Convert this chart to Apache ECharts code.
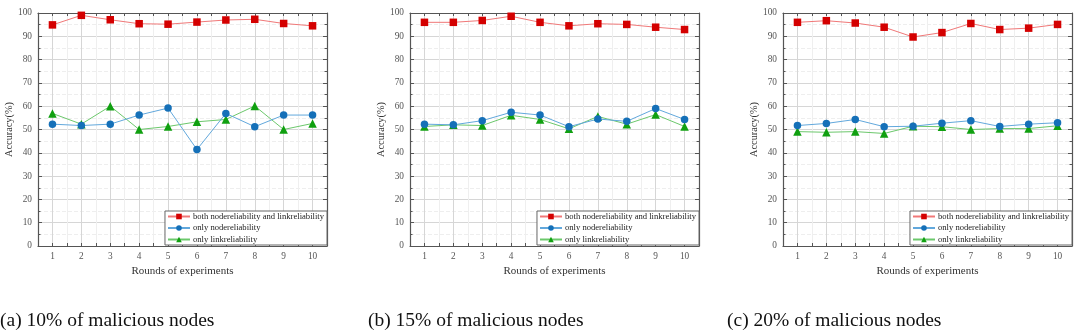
<!DOCTYPE html>
<html>
<head>
<meta charset="utf-8">
<script src="https://cdn.jsdelivr.net/npm/echarts@6/dist/echarts.min.js"></script>
<style>
html,body{margin:0;padding:0;background:#fff;}
#chart{width:1080px;height:335px;}
</style>
</head>
<body>
<div id="chart"></div>
<script>
const rounds = [1, 2, 3, 4, 5, 6, 7, 8, 9, 10];
const seriesNames = ['both nodereliability and linkreliability', 'only nodereliability', 'only linkreliability'];
const captions = ['(a) 10% of malicious nodes', '(b) 15% of malicious nodes', '(c) 20% of malicious nodes'];

const bothA = [94.9, 99.0, 97.1, 95.4, 95.2, 96.1, 97.0, 97.3, 95.5, 94.5];
const nodeA = [52.3, 51.7, 52.3, 56.2, 59.2, 41.4, 56.9, 51.2, 56.2, 56.2];
const linkA = [56.9, 52.3, 60.0, 50.0, 51.3, 53.3, 54.3, 60.1, 50.0, 52.6];

const bothB = [96.0, 96.0, 96.8, 98.6, 96.0, 94.5, 95.4, 95.1, 93.9, 92.9];
const nodeB = [52.3, 52.0, 53.8, 57.4, 56.2, 51.2, 54.5, 53.5, 59.0, 54.3];
const linkB = [51.3, 52.0, 51.7, 56.1, 54.3, 50.3, 55.6, 52.3, 56.4, 51.3];

const bothC = [96.0, 96.7, 95.7, 93.9, 89.7, 91.6, 95.5, 92.9, 93.5, 95.1];
const nodeC = [51.7, 52.6, 54.3, 51.2, 51.4, 52.7, 53.8, 51.3, 52.3, 52.9];
const linkC = [49.1, 48.8, 49.1, 48.3, 51.4, 51.2, 50.0, 50.4, 50.4, 51.6];

const panels = [[bothA, nodeA, linkA], [bothB, nodeB, linkB], [bothC, nodeC, linkC]];

const FONT = "'Liberation Serif', 'Times New Roman', serif";
const lineColors = ['#f07878', '#62a8dc', '#6cc86c'];
const markColors = ['#d40000', '#1570b8', '#10a010'];
const symbols = ['rect', 'circle', 'triangle'];
const symbolSizes = [7.5, 7.5, 8.5];

const gridLefts = [38, 410, 783];
const gridWidth = 289;
const gridTop = 13;
const gridBottom = 89;
const captionX = [0, 368, 727];

const grids = [], xAxes = [], yAxes = [], series = [], legends = [], graphics = [];
const axisLineStyle = { color: '#555', width: 1.2 };

panels.forEach((data, p) => {
  grids.push({ left: gridLefts[p], width: gridWidth, top: gridTop, bottom: gridBottom, containLabel: false });
  xAxes.push({
    type: 'value', gridIndex: p, min: 0.5, max: 10.5, interval: 0.5, position: 'bottom',
    name: 'Rounds of experiments', nameLocation: 'middle', nameGap: 20,
    nameTextStyle: { fontFamily: FONT, fontSize: 11, color: '#333' },
    axisLine: { show: true, onZero: false, lineStyle: axisLineStyle },
    axisTick: { show: true, inside: true, length: 3, lineStyle: { color: '#555' } },
    axisLabel: { fontFamily: FONT, fontSize: 9.3, color: '#555', margin: 6,
      formatter: v => (Math.abs(v - Math.round(v)) < 1e-6 ? String(Math.round(v)) : '') },
    splitLine: { show: true, lineStyle: { color: ['#efefef', '#d6d6d6'], width: 1 } }
  });
  xAxes.push({
    type: 'value', gridIndex: p, min: 0.5, max: 10.5, interval: 0.5, position: 'top',
    axisLine: { show: true, onZero: false, lineStyle: axisLineStyle },
    axisTick: { show: true, inside: true, length: 3, lineStyle: { color: '#555' } },
    axisLabel: { show: false }, splitLine: { show: false }
  });
  yAxes.push({
    type: 'value', gridIndex: p, min: 0, max: 100, interval: 10, position: 'left',
    name: 'Accuracy(%)', nameLocation: 'middle', nameGap: 23,
    nameTextStyle: { fontFamily: FONT, fontSize: 10.3, color: '#333' },
    axisLine: { show: true, onZero: false, lineStyle: axisLineStyle },
    axisTick: { show: true, inside: true, length: 4, lineStyle: { color: '#555' } },
    minorTick: { show: true, splitNumber: 2, length: 2.5, lineStyle: { color: '#555' } },
    axisLabel: { fontFamily: FONT, fontSize: 9.3, color: '#555', margin: 6 },
    splitLine: { show: true, lineStyle: { color: '#d6d6d6', width: 1 } },
    minorSplitLine: { show: true, lineStyle: { color: '#eeeeee', width: 1, type: 'dashed' } }
  });
  yAxes.push({
    type: 'value', gridIndex: p, min: 0, max: 100, interval: 10, position: 'right',
    axisLine: { show: true, onZero: false, lineStyle: axisLineStyle },
    axisTick: { show: true, inside: true, length: 4, lineStyle: { color: '#555' } },
    minorTick: { show: true, splitNumber: 2, length: 2.5, lineStyle: { color: '#555' } },
    axisLabel: { show: false }, splitLine: { show: false }
  });
  data.forEach((vals, s) => {
    series.push({
      name: seriesNames[s], type: 'line', xAxisIndex: 2 * p, yAxisIndex: 2 * p,
      data: rounds.map((r, i) => [r, vals[i]]),
      symbol: symbols[s], symbolSize: symbolSizes[s], showSymbol: true,
      lineStyle: { color: lineColors[s], width: 1 },
      itemStyle: { color: markColors[s] },
      z: 3 + (2 - s), animation: false
    });
  });
  legends.push({
    orient: 'vertical', right: 1080 - (gridLefts[p] + gridWidth), bottom: gridBottom + 1,
    data: seriesNames, itemWidth: 22, itemHeight: 7, itemGap: 2.5,
    padding: [1, 3, 1, 2], backgroundColor: '#fff', borderColor: '#666', borderWidth: 1,
    textStyle: { fontFamily: FONT, fontSize: 8.6, color: '#222', padding: [0, 0, 0, -2] },
    selectedMode: false
  });
  graphics.push({
    type: 'text', left: captionX[p], top: 311,
    style: { text: captions[p], font: "19.5px 'Liberation Serif', 'Times New Roman', serif", fill: '#111' }
  });
});

const chart = echarts.init(document.getElementById('chart'), null, { renderer: 'canvas' });
chart.setOption({
  backgroundColor: '#fff', animation: false,
  grid: grids, xAxis: xAxes, yAxis: yAxes, series: series, legend: legends, graphic: graphics
});
</script>
</body>
</html>
